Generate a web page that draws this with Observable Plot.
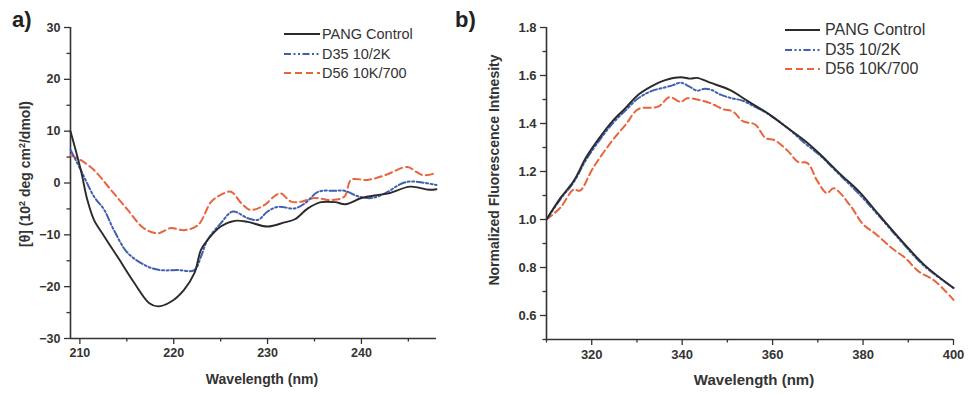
<!DOCTYPE html>
<html>
<head>
<meta charset="utf-8">
<script src="https://cdn.jsdelivr.net/npm/d3@7"></script>
<script src="https://cdn.jsdelivr.net/npm/@observablehq/plot@0.6"></script>
<style>
  html, body { margin: 0; padding: 0; background: #fff; }
  #wrap { position: relative; width: 979px; height: 395px; overflow: hidden; font-family: "Liberation Sans", Arial, sans-serif; }
  .panel { position: absolute; top: 0; }
  .tag { position: absolute; font-weight: bold; font-size: 22px; color: #222; line-height: 1; }
  .ytitle { position: absolute; font-weight: bold; font-size: 14px; color: #333; white-space: nowrap; transform: translate(-50%, -50%) rotate(-90deg); }
  .xtitle { position: absolute; font-weight: bold; color: #333; white-space: nowrap; transform: translate(-50%, -50%); }
  .legrow { position: absolute; white-space: nowrap; color: #333; }
</style>
</head>
<body>
<div id="wrap"></div>
<script>
// ---------- Series names / styles ----------
const seriesNames = ["PANG Control", "D35 10/2K", "D56 10K/700"];
const seriesColors = ["#2a2a2a", "#3f5fb3", "#e9643c"];
const seriesDash = [null, "7,2.5,2,2.5,2,2.5", "7,4"];

// ---------- Panel a) CD spectra ----------
const cdWlControl = [209, 210.1, 210.8, 211.5, 212.6, 214, 215.8, 217.4, 218.3, 219.7, 221.1, 222.2, 222.9, 223.6, 225, 226.5, 227.9, 230, 231.8, 232.9, 234.3, 235.7, 237.2, 238.3, 240, 241.8, 242.9, 245.2, 247.2, 248];
const cdValControl = [10, 2.5, -3.3, -7.1, -10.3, -14.2, -19.3, -23.2, -23.8, -22.9, -20.6, -17.4, -12.9, -11, -8.4, -7.3, -7.5, -8.4, -7.6, -7, -4.9, -3.7, -3.7, -4.1, -2.9, -2.3, -2, -0.7, -1.3, -1.2];

const cdWlD35 = [209, 210.1, 211.5, 212.6, 213.6, 215.1, 217.2, 218.6, 220.4, 222.2, 222.9, 223.6, 225, 226.3, 227.9, 229, 230, 231.1, 232.9, 234, 235.4, 237.2, 238.2, 239.7, 241.1, 242.5, 244.3, 245.2, 246.5, 248];
const cdValD35 = [6.4, 2.5, -2.6, -5.2, -9, -13.5, -16.1, -16.8, -16.8, -16.8, -14.2, -11, -7.8, -5.5, -6.8, -7.1, -5.5, -4.6, -4.9, -3.9, -1.7, -1.5, -1.5, -2.6, -2.9, -2, -0.1, 0.3, 0.1, -0.4];

const cdWlD56 = [209, 210.1, 211.5, 213.3, 215.1, 216.8, 218.3, 219.7, 221.1, 222.6, 224, 225, 226.1, 227.2, 228.2, 229.7, 230.7, 231.4, 232.5, 233.6, 235, 236.8, 238.2, 238.9, 240.7, 242.5, 244.9, 245.8, 246.6, 247.9];
const cdValD56 = [5.4, 4.4, 2.5, -1.3, -5.2, -8.7, -9.7, -8.7, -9.1, -8.1, -3.6, -2.3, -1.7, -3.9, -5.2, -4.2, -2.6, -2, -3.6, -3.6, -2.9, -3.3, -2.6, 0.6, 0.6, 1.5, 3.1, 2.2, 1.5, 1.9];

const cdXDomain = [209, 248];
const cdYDomain = [-30, 30];
const cdXTicks = [210, 220, 230, 240];
const cdXMinor = [215, 225, 235, 245];
const cdYTicks = [-30, -20, -10, 0, 10, 20, 30];
const cdYMinor = [-25, -15, -5, 5, 15, 25];

// ---------- Panel b) Fluorescence ----------
const flWlControl = [310, 313.1, 316, 318.8, 321.7, 324.6, 327.5, 330.3, 333.2, 336.1, 339.7, 341.8, 343.3, 346.2, 350.5, 354.8, 359.1, 363.4, 367, 370.6, 374.9, 379.2, 383.5, 388.6, 393.6, 400];
const flValControl = [1.0, 1.09, 1.16, 1.26, 1.34, 1.41, 1.465, 1.52, 1.555, 1.58, 1.593, 1.587, 1.59, 1.57, 1.54, 1.49, 1.44, 1.38, 1.33, 1.27, 1.19, 1.115, 1.02, 0.91, 0.81, 0.715];

const flWlD35 = [310, 313.1, 316, 318.8, 321.7, 324.6, 327.5, 330.3, 333.2, 336.1, 338, 339.7, 341.5, 343.3, 345, 346.5, 348.5, 351, 353.4, 356, 359, 363.4, 367, 370.6, 374.9, 379.2, 383.5, 388.6, 393.6, 400];
const flValD35 = [1.0, 1.085, 1.155, 1.25, 1.33, 1.4, 1.455, 1.505, 1.535, 1.55, 1.56, 1.57, 1.555, 1.537, 1.545, 1.54, 1.52, 1.505, 1.495, 1.47, 1.44, 1.38, 1.32, 1.265, 1.185, 1.105, 1.015, 0.905, 0.805, 0.715];

const flWlD56 = [310, 313.1, 316, 317.4, 320.3, 324.6, 327.5, 330.3, 334.7, 337.2, 339.7, 341.1, 343.3, 346.2, 349, 351.2, 353.4, 356.2, 358.4, 360.5, 363.4, 365.6, 367.7, 369.9, 372, 373.5, 377.1, 380, 382.8, 386.4, 389.3, 392.2, 395.8, 400];
const flValD56 = [1.0, 1.05, 1.125, 1.12, 1.215, 1.33, 1.395, 1.46, 1.47, 1.51, 1.49, 1.505, 1.5, 1.485, 1.46, 1.45, 1.41, 1.395, 1.34, 1.33, 1.285, 1.24, 1.235, 1.16, 1.11, 1.13, 1.06, 0.98, 0.94, 0.88, 0.84, 0.785, 0.745, 0.665];

const flXDomain = [310, 400];
const flYDomain = [0.5, 1.8];
const flXTicks = [320, 340, 360, 380, 400];
const flXMinor = [310, 330, 350, 370, 390];
const flYTicks = [0.6, 0.8, 1.0, 1.2, 1.4, 1.6, 1.8];
const flYMinor = [0.5, 0.7, 0.9, 1.1, 1.3, 1.5, 1.7];

// ---------- Helpers ----------
function toRows(wl, val, name) { return wl.map((w, i) => ({wl: w, v: val[i], s: name})); }

const wrap = document.getElementById("wrap");
const font = "'Liberation Sans', Arial, sans-serif";

function panel(opts) {
  const series = [
    toRows(opts.wl[0], opts.val[0], seriesNames[0]),
    toRows(opts.wl[1], opts.val[1], seriesNames[1]),
    toRows(opts.wl[2], opts.val[2], seriesNames[2])
  ];
  const lineMarks = [2, 1, 0].map(i => Plot.line(series[i], {
    x: "wl", y: "v", stroke: seriesColors[i], strokeWidth: i === 0 ? 1.9 : 2,
    strokeDasharray: seriesDash[i], curve: "catmull-rom"
  }));
  const tickStyle = {fontWeight: "bold", fontSize: opts.tickFont, fill: "#333", stroke: "#333", strokeWidth: 1.3};
  const svg = Plot.plot({
    width: opts.width, height: 395,
    marginLeft: opts.ml, marginRight: opts.mr, marginTop: opts.mt, marginBottom: opts.mb,
    style: {fontFamily: font, background: "transparent", overflow: "visible"},
    x: {domain: opts.xDomain},
    y: {domain: opts.yDomain},
    marks: [
      Plot.axisX({ticks: opts.xTicks, tickSize: 6, tickPadding: 4, label: null, tickFormat: opts.xFmt, ...tickStyle}),
      Plot.axisX({ticks: opts.xMinor, tickSize: 3.5, label: null, tickFormat: () => "", stroke: "#333", strokeWidth: 1.3}),
      Plot.axisY({ticks: opts.yTicks, tickSize: 6, tickPadding: 4, label: null, tickFormat: opts.yFmt, ...tickStyle}),
      Plot.axisY({ticks: opts.yMinor, tickSize: 3.5, label: null, tickFormat: () => "", stroke: "#333", strokeWidth: 1.3}),
      Plot.ruleX([opts.xDomain[0]], {stroke: "#333", strokeWidth: 1.6}),
      Plot.ruleY([opts.yDomain[0]], {stroke: "#333", strokeWidth: 1.6}),
      ...lineMarks
    ]
  });
  svg.classList.add("panel");
  svg.style.left = opts.left + "px";
  wrap.appendChild(svg);
}

panel({
  left: 0, width: 490, ml: 70, mr: 54, mt: 27, mb: 57, tickFont: 12.5,
  wl: [cdWlControl, cdWlD35, cdWlD56], val: [cdValControl, cdValD35, cdValD56],
  xDomain: cdXDomain, yDomain: cdYDomain, xTicks: cdXTicks, xMinor: cdXMinor, yTicks: cdYTicks, yMinor: cdYMinor,
  xFmt: d3.format("d"), yFmt: d3.format("d")
});
panel({
  left: 490, width: 489, ml: 56, mr: 26, mt: 27, mb: 56, tickFont: 13,
  wl: [flWlControl, flWlD35, flWlD56], val: [flValControl, flValD35, flValD56],
  xDomain: flXDomain, yDomain: flYDomain, xTicks: flXTicks, xMinor: flXMinor, yTicks: flYTicks, yMinor: flYMinor,
  xFmt: d3.format("d"), yFmt: d3.format(".1f")
});

// ---------- Text overlays ----------
function addDiv(cls, html, css) {
  const d = document.createElement("div");
  d.className = cls; d.innerHTML = html;
  Object.assign(d.style, css);
  wrap.appendChild(d);
  return d;
}
addDiv("tag", "a)", {left: "12px", top: "9px"});
addDiv("tag", "b)", {left: "455px", top: "9px"});
addDiv("ytitle", "[θ] (10<sup style='font-size:9px;vertical-align:5px'>2</sup> deg cm<sup style='font-size:9px;vertical-align:5px'>2</sup>/dmol)", {left: "25px", top: "174px"});
addDiv("ytitle", "Normalized Fluorescence Intnesity", {left: "494px", top: "170px"});
addDiv("xtitle", "Wavelength (nm)", {left: "262px", top: "379px", fontSize: "14px"});
addDiv("xtitle", "Wavelength (nm)", {left: "754px", top: "379px", fontSize: "15px"});

function legend(x0, x1, xt, ys, fs) {
  seriesNames.forEach((name, i) => {
    const row = addDiv("legrow", "", {left: x0 + "px", top: (ys[i] - 10) + "px", height: "20px", fontSize: fs + "px"});
    const w = x1 - x0;
    row.innerHTML = `<svg width="${w}" height="20" style="position:absolute;left:0;top:0"><line x1="0" x2="${w}" y1="10" y2="10" stroke="${seriesColors[i]}" stroke-width="2" ${seriesDash[i] ? `stroke-dasharray="${seriesDash[i]}"` : ""}/></svg><span style="position:absolute;left:${xt - x0}px;top:50%;transform:translateY(-50%);line-height:1">${name}</span>`;
  });
}
legend(284, 320, 322, [34, 53.5, 73], 14.5);
legend(785, 820, 825, [30, 49.5, 69], 16);
</script>
</body>
</html>
